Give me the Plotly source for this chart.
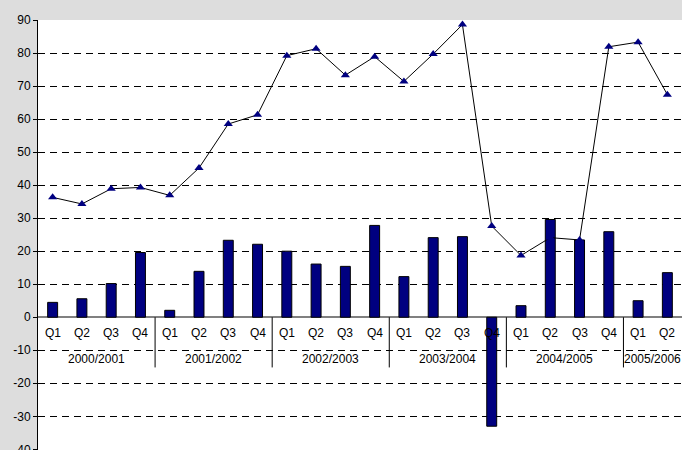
import plotly.graph_objects as go

groups = ["2000/2001", "2001/2002", "2002/2003", "2003/2004", "2004/2005", "2005/2006"]
quarters_per_group = [4, 4, 4, 4, 4, 2]
quarter_names = ["Q1", "Q2", "Q3", "Q4"]

bar_values = [4.5, 5.6, 10.2, 19.6,
              2.1, 13.9, 23.3, 22.1,
              20.0, 16.1, 15.4, 27.8,
              12.3, 24.1, 24.4, -33.0,
              3.5, 29.6, 23.4, 25.9,
              5.0, 13.5]
line_values = [36.3, 34.3, 38.9, 39.3,
               36.9, 45.2, 58.5, 61.3,
               79.2, 81.3, 73.3, 78.9,
               71.4, 79.7, 88.6, 27.6,
               18.7, 24.1, 23.4, 81.9,
               83.3, 67.4]
y_ticks = [-40, -30, -20, -10, 0, 10, 20, 30, 40, 50, 60, 70, 80, 90]

cats = []
qlabels = []
for g, n in zip(groups, quarters_per_group):
    for q in quarter_names[:n]:
        cats.append(f"{g} {q}")
        qlabels.append(q)

FONT = "Liberation Sans, Arial, sans-serif"

fig = go.Figure()
fig.add_trace(go.Bar(x=cats, y=bar_values, marker=dict(color="#000080", line=dict(color="black", width=1)),
                     width=0.34, showlegend=False))
fig.add_trace(go.Scatter(x=cats, y=line_values, mode="lines+markers",
                         line=dict(color="black", width=1),
                         marker=dict(symbol="triangle-up", size=8, color="#000080"),
                         showlegend=False))

annotations = []
for c, q in zip(cats, qlabels):
    annotations.append(dict(x=c, y=0, xref="x", yref="y", text=q, showarrow=False,
                            yshift=-16, font=dict(family=FONT, size=12, color="black")))
shapes = []
idx = 0
for g, n in zip(groups, quarters_per_group):
    center = idx + (n - 1) / 2
    annotations.append(dict(x=center, y=0, xref="x", yref="y", text=g, showarrow=False,
                            yshift=-42, font=dict(family=FONT, size=12, color="black")))
    if idx > 0:
        shapes.append(dict(type="line", xref="x", yref="y", x0=idx - 0.5, x1=idx - 0.5,
                           y0=0, y1=-15.2, line=dict(color="black", width=1)))
    idx += n

fig.update_layout(
    width=682, height=450,
    margin=dict(l=38, r=0, t=20, b=0),
    paper_bgcolor="#dddddd", plot_bgcolor="white",
    font=dict(family=FONT, size=12, color="black"),
    bargap=0.66,
    annotations=annotations, shapes=shapes,
    xaxis=dict(type="category", showticklabels=False, showgrid=False, zeroline=False,
               range=[-0.5, len(cats) - 0.5], showline=False, automargin=False),
    yaxis=dict(range=[-40.2, 90], tickvals=y_ticks, ticktext=[str(v) for v in y_ticks],
               ticklabeloverflow="allow", automargin=False,
               showgrid=True, gridcolor="black",
               griddash="7px,5px", gridwidth=1, zeroline=True, zerolinecolor="#808080",
               zerolinewidth=2, showline=True, linecolor="black", linewidth=1,
               ticks="outside", ticklen=4, tickcolor="black",
               tickfont=dict(family=FONT, size=12, color="black")),
)

fig.write_html("out.html", config={"displayModeBar": False},
               post_script="document.body.style.margin='0px';document.body.style.overflow='hidden';")
